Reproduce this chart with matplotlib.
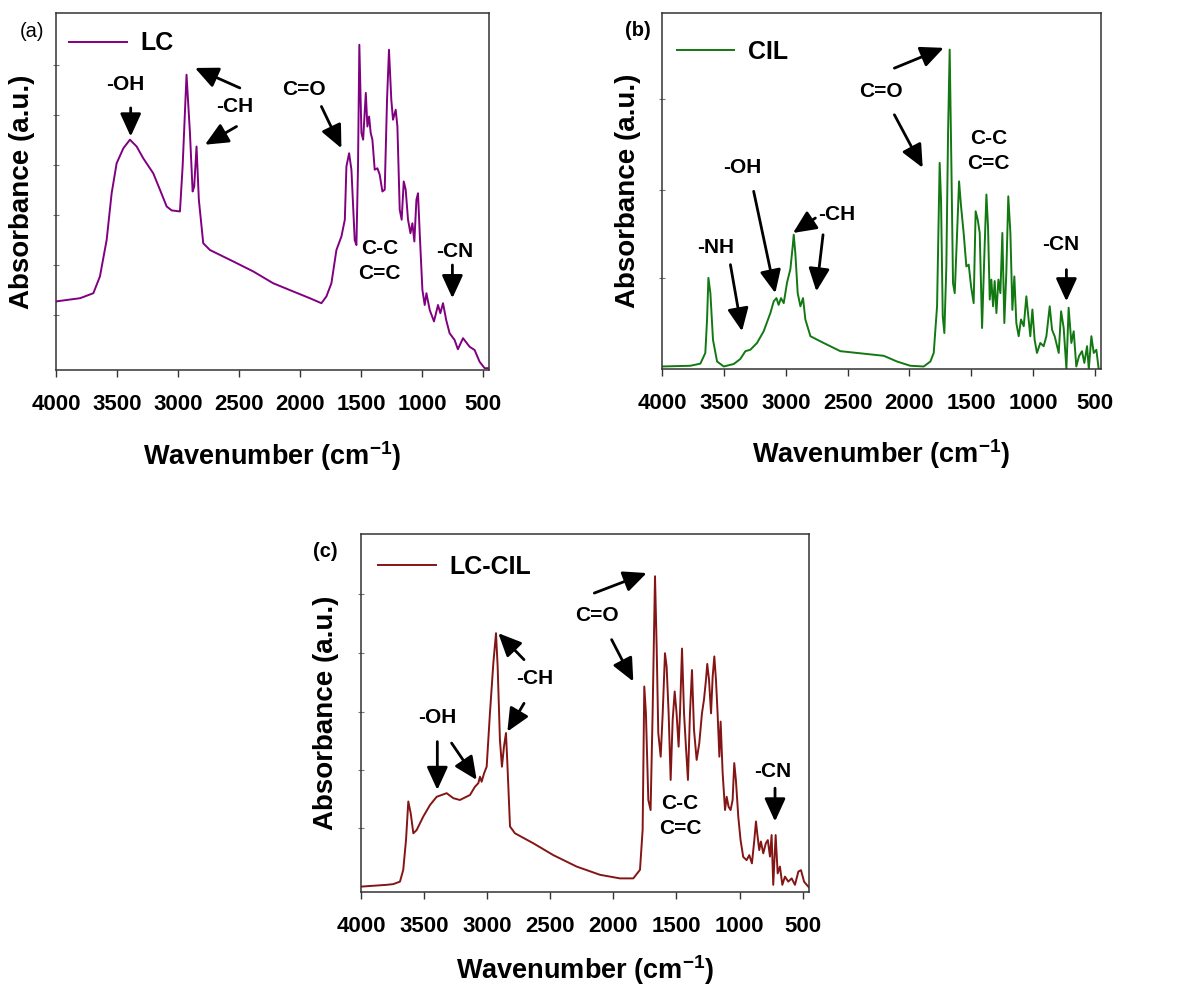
import numpy as np
import matplotlib
matplotlib.use('Agg')
import matplotlib.pyplot as plt

plt.rcParams['font.family'] = ['Liberation Sans', 'DejaVu Sans']
plt.rcParams['mathtext.fontset'] = 'custom'
plt.rcParams['mathtext.bf'] = 'Liberation Sans:bold'
plt.rcParams['mathtext.rm'] = 'Liberation Sans:bold'
plt.rcParams['mathtext.default'] = 'bf'

# ---- spectra (wavenumber, absorbance as fraction of axis height)
wn_lc = [4000, 3803, 3694, 3640, 3585, 3544, 3503, 3448, 3394, 3339, 3285, 3203, 3148, 3093, 3052,
         2984, 2962, 2930, 2902, 2880, 2867, 2848, 2829, 2793, 2738, 2547, 2383, 2220, 2056, 1919,
         1824, 1783, 1742, 1701, 1660, 1632, 1619, 1597, 1578, 1551, 1537, 1524, 1513, 1496, 1482,
         1460, 1447, 1433, 1420, 1406, 1387, 1365, 1346, 1324, 1305, 1286, 1270, 1251, 1237, 1215,
         1201, 1182, 1166, 1149, 1133, 1114, 1094, 1078, 1062, 1045, 1032, 1018, 996, 977, 963,
         936, 901, 868, 849, 827, 801, 773, 732, 705, 663, 609, 568, 527, 486, 450]
abs_lc = [0.192, 0.201, 0.215, 0.262, 0.364, 0.495, 0.579, 0.621, 0.645, 0.626, 0.593, 0.551, 0.505, 0.458, 0.447,
          0.444, 0.570, 0.827, 0.664, 0.500, 0.514, 0.626, 0.477, 0.355, 0.336, 0.304, 0.276, 0.243, 0.220, 0.201,
          0.187, 0.206, 0.243, 0.336, 0.374, 0.421, 0.570, 0.607, 0.561, 0.364, 0.350, 0.570, 0.911, 0.664, 0.645,
          0.776, 0.682, 0.710, 0.664, 0.645, 0.561, 0.565, 0.547, 0.500, 0.505, 0.757, 0.897, 0.757, 0.701, 0.729,
          0.682, 0.449, 0.421, 0.528, 0.505, 0.421, 0.383, 0.411, 0.360, 0.477, 0.495, 0.383, 0.224, 0.182, 0.215,
          0.168, 0.136, 0.182, 0.159, 0.187, 0.140, 0.103, 0.084, 0.058, 0.089, 0.065, 0.056, 0.023, 0.005, 0.005]

wn_cil = [4000, 3771, 3690, 3650, 3636, 3625, 3609, 3588, 3555, 3501, 3420, 3367, 3326, 3286, 3232,
          3178, 3124, 3097, 3075, 3057, 3038, 3016, 2989, 2962, 2943, 2935, 2922, 2903, 2881, 2860,
          2841, 2800, 2693, 2558, 2369, 2207, 2100, 1992, 1884, 1830, 1803, 1776, 1755, 1744, 1730,
          1717, 1701, 1687, 1674, 1660, 1647, 1633, 1614, 1598, 1582, 1561, 1539, 1520, 1501, 1480,
          1464, 1447, 1431, 1412, 1393, 1377, 1364, 1350, 1337, 1323, 1310, 1296, 1280, 1264, 1248,
          1232, 1216, 1200, 1183, 1167, 1151, 1135, 1116, 1097, 1075, 1054, 1038, 1022, 1005, 987,
          968, 941, 914, 892, 865, 846, 825, 792, 773, 752, 730, 712, 690, 671, 650,
          628, 604, 585, 563, 549, 528, 509, 488, 469, 450]
abs_cil = [0.007, 0.009, 0.015, 0.045, 0.139, 0.256, 0.213, 0.082, 0.021, 0.007, 0.014, 0.028, 0.050, 0.054, 0.073,
           0.106, 0.157, 0.190, 0.199, 0.180, 0.199, 0.185, 0.243, 0.281, 0.346, 0.377, 0.325, 0.213, 0.176, 0.199,
           0.139, 0.092, 0.073, 0.050, 0.043, 0.037, 0.021, 0.009, 0.007, 0.021, 0.045, 0.176, 0.579, 0.476, 0.148,
           0.101, 0.288, 0.663, 0.897, 0.569, 0.241, 0.213, 0.382, 0.527, 0.457, 0.382, 0.288, 0.293, 0.232, 0.185,
           0.443, 0.419, 0.382, 0.115, 0.326, 0.490, 0.401, 0.195, 0.251, 0.176, 0.247, 0.157, 0.251, 0.213, 0.382,
           0.129, 0.270, 0.485, 0.382, 0.166, 0.260, 0.129, 0.092, 0.139, 0.120, 0.204, 0.148, 0.092, 0.167, 0.082,
           0.045, 0.073, 0.064, 0.092, 0.176, 0.110, 0.092, 0.045, 0.162, 0.115, 0.000, 0.172, 0.073, 0.106, 0.007,
           0.036, 0.050, 0.017, 0.064, 0.000, 0.092, 0.045, 0.054, 0.000, 0.000]

wn_lccil = [4000, 3797, 3744, 3691, 3665, 3643, 3625, 3606, 3585, 3559, 3506, 3453, 3400, 3321, 3268,
            3216, 3136, 3097, 3070, 3057, 3044, 3025, 3004, 2978, 2951, 2930, 2917, 2899, 2883, 2867,
            2851, 2840, 2819, 2780, 2634, 2476, 2291, 2106, 1948, 1842, 1789, 1768, 1755, 1742, 1723,
            1705, 1689, 1670, 1657, 1644, 1625, 1609, 1591, 1578, 1562, 1546, 1530, 1514, 1499, 1483,
            1472, 1456, 1440, 1425, 1409, 1393, 1377, 1361, 1340, 1319, 1298, 1282, 1266, 1256, 1242,
            1226, 1213, 1200, 1187, 1174, 1160, 1150, 1134, 1115, 1102, 1087, 1071, 1055, 1042, 1029,
            1010, 992, 971, 944, 923, 902, 883, 870, 857, 844, 831, 812, 792, 776, 759,
            746, 733, 714, 698, 680, 661, 640, 614, 587, 561, 534, 513, 489, 468, 450]
abs_lccil = [0.015, 0.020, 0.022, 0.029, 0.062, 0.146, 0.253, 0.220, 0.164, 0.173, 0.211, 0.243, 0.266, 0.276, 0.262,
             0.257, 0.271, 0.294, 0.304, 0.322, 0.308, 0.331, 0.350, 0.500, 0.640, 0.723, 0.630, 0.425, 0.350, 0.406,
             0.444, 0.359, 0.183, 0.164, 0.136, 0.103, 0.071, 0.048, 0.038, 0.038, 0.062, 0.174, 0.574, 0.499, 0.257,
             0.229, 0.499, 0.882, 0.686, 0.444, 0.378, 0.499, 0.667, 0.630, 0.499, 0.313, 0.481, 0.560, 0.499, 0.406,
             0.499, 0.680, 0.499, 0.406, 0.313, 0.499, 0.620, 0.453, 0.369, 0.416, 0.499, 0.537, 0.593, 0.637, 0.593,
             0.499, 0.602, 0.658, 0.593, 0.499, 0.378, 0.476, 0.332, 0.229, 0.266, 0.238, 0.229, 0.257, 0.360, 0.313,
             0.210, 0.145, 0.098, 0.089, 0.103, 0.080, 0.145, 0.197, 0.155, 0.117, 0.141, 0.108, 0.136, 0.145, 0.099,
             0.159, 0.020, 0.159, 0.052, 0.071, 0.020, 0.043, 0.029, 0.038, 0.020, 0.057, 0.061, 0.029, 0.020, 0.013]

xticks = [4000, 3500, 3000, 2500, 2000, 1500, 1000, 500]

# annotation texts: (label, wn, y)
notes_a = [('-OH', 3435, 0.799), ('-CH', 2534, 0.738), ('C=O', 1966, 0.787),
           ('C-C\nC=C', 1345, 0.305), ('-CN', 731, 0.332)]
arrows_a = [((3388, 0.734), (3388, 0.654)), ((2493, 0.790), (2861, 0.846)),
            ((2520, 0.682), (2779, 0.631)), ((1824, 0.738), (1660, 0.621)),
            ((750, 0.294), (750, 0.201))]

notes_b = [('-NH', 3569, 0.340), ('-OH', 3353, 0.565), ('-CH', 2585, 0.434),
           ('C=O', 2226, 0.780), ('C-C\nC=C', 1358, 0.611), ('-CN', 779, 0.349)]
arrows_b = [((3447, 0.293), (3353, 0.106)), ((3259, 0.499), (3084, 0.213)),
            ((2760, 0.424), (2941, 0.382)), ((2698, 0.377), (2752, 0.218)),
            ((2121, 0.845), (1722, 0.902)), ((2121, 0.714), (1892, 0.565)),
            ((730, 0.279), (730, 0.190))]

notes_c = [('-OH', 3395, 0.488), ('-CH', 2621, 0.596), ('C=O', 2133, 0.772),
           ('C-C\nC=C', 1472, 0.211), ('-CN', 738, 0.336)]
arrows_c = [((3395, 0.420), (3395, 0.285)), ((3282, 0.416), (3083, 0.313)),
            ((2708, 0.649), (2912, 0.723)), ((2708, 0.527), (2840, 0.448)),
            ((2151, 0.835), (1736, 0.891)), ((2014, 0.705), (1842, 0.588)),
            ((719, 0.290), (719, 0.197))]


def draw_panel(ax, wn, ab, color, name, tag, tag_weight, tag_xy, ytk, notes, arrows, leg_xy, xlab_y):
    ax.plot(wn, ab, color=color, lw=1.4, label=name)
    ax.set_xlim(4000, 450)
    ax.set_ylim(0, 1)
    ax.set_xticks(xticks)
    ax.set_xticklabels([str(t) for t in xticks], fontsize=16, fontweight='bold')
    ax.tick_params(axis='x', direction='out', length=5, width=1, pad=12, color='#333333')
    ax.set_yticks(ytk)
    ax.set_yticklabels([])
    ax.tick_params(axis='y', direction='inout', length=4, width=0.8, color='#777777')
    for s in ax.spines.values():
        s.set_color('#333333')
        s.set_linewidth(1.1)
    ax.set_xlabel('Wavenumber (cm$^{-1}$)', fontsize=19.5, fontweight='bold', va='center')
    ax.xaxis.set_label_coords(0.5, xlab_y)
    ax.set_ylabel('Absorbance (a.u.)', fontsize=20, fontweight='bold', va='center')
    ax.yaxis.set_label_coords(-0.078, 0.5)
    ax.legend(loc='center left', bbox_to_anchor=leg_xy, frameon=False, borderpad=0,
              borderaxespad=0, handlelength=2.3, handletextpad=0.55,
              prop={'size': 18, 'weight': 'bold'})
    for txt, x, y in notes:
        ax.text(x, y, txt, fontsize=15, fontweight='bold', ha='center', va='center',
                linespacing=1.4)
    for start, end in arrows:
        ax.annotate('', xy=end, xytext=start,
                    arrowprops=dict(arrowstyle='-|>,head_length=0.7,head_width=0.32',
                                    color='black', lw=2, mutation_scale=20,
                                    shrinkA=0, shrinkB=0))
    ax.text(tag_xy[0], tag_xy[1], tag, transform=ax.transAxes, fontsize=14.5,
            fontweight=tag_weight, ha='center', va='center')


fig = plt.figure(figsize=(11.82, 9.9), dpi=100)
ax_a = fig.add_axes([0.0474, 0.6263, 0.3663, 0.3606])
ax_b = fig.add_axes([0.5601, 0.6273, 0.3714, 0.3596])
ax_c = fig.add_axes([0.3054, 0.0990, 0.3790, 0.3616])

draw_panel(ax_a, wn_lc, abs_lc, '#800080', 'LC', '(a)', 'normal', (-0.055, 0.947),
           [0.153, 0.293, 0.433, 0.573, 0.715, 0.855], notes_a, arrows_a, (0.03, 0.915), -0.24)
draw_panel(ax_b, wn_cil, abs_cil, '#127812', 'CIL', '(b)', 'bold', (-0.055, 0.952),
           [0.256, 0.504, 0.757], notes_b, arrows_b, (0.034, 0.89), -0.24)
draw_panel(ax_c, wn_lccil, abs_lccil, '#841515', 'LC-CIL', '(c)', 'bold', (-0.08, 0.95),
           [0.179, 0.341, 0.503, 0.668, 0.832], notes_c, arrows_c, (0.038, 0.908), -0.218)

fig.savefig('out.png', dpi=100)
